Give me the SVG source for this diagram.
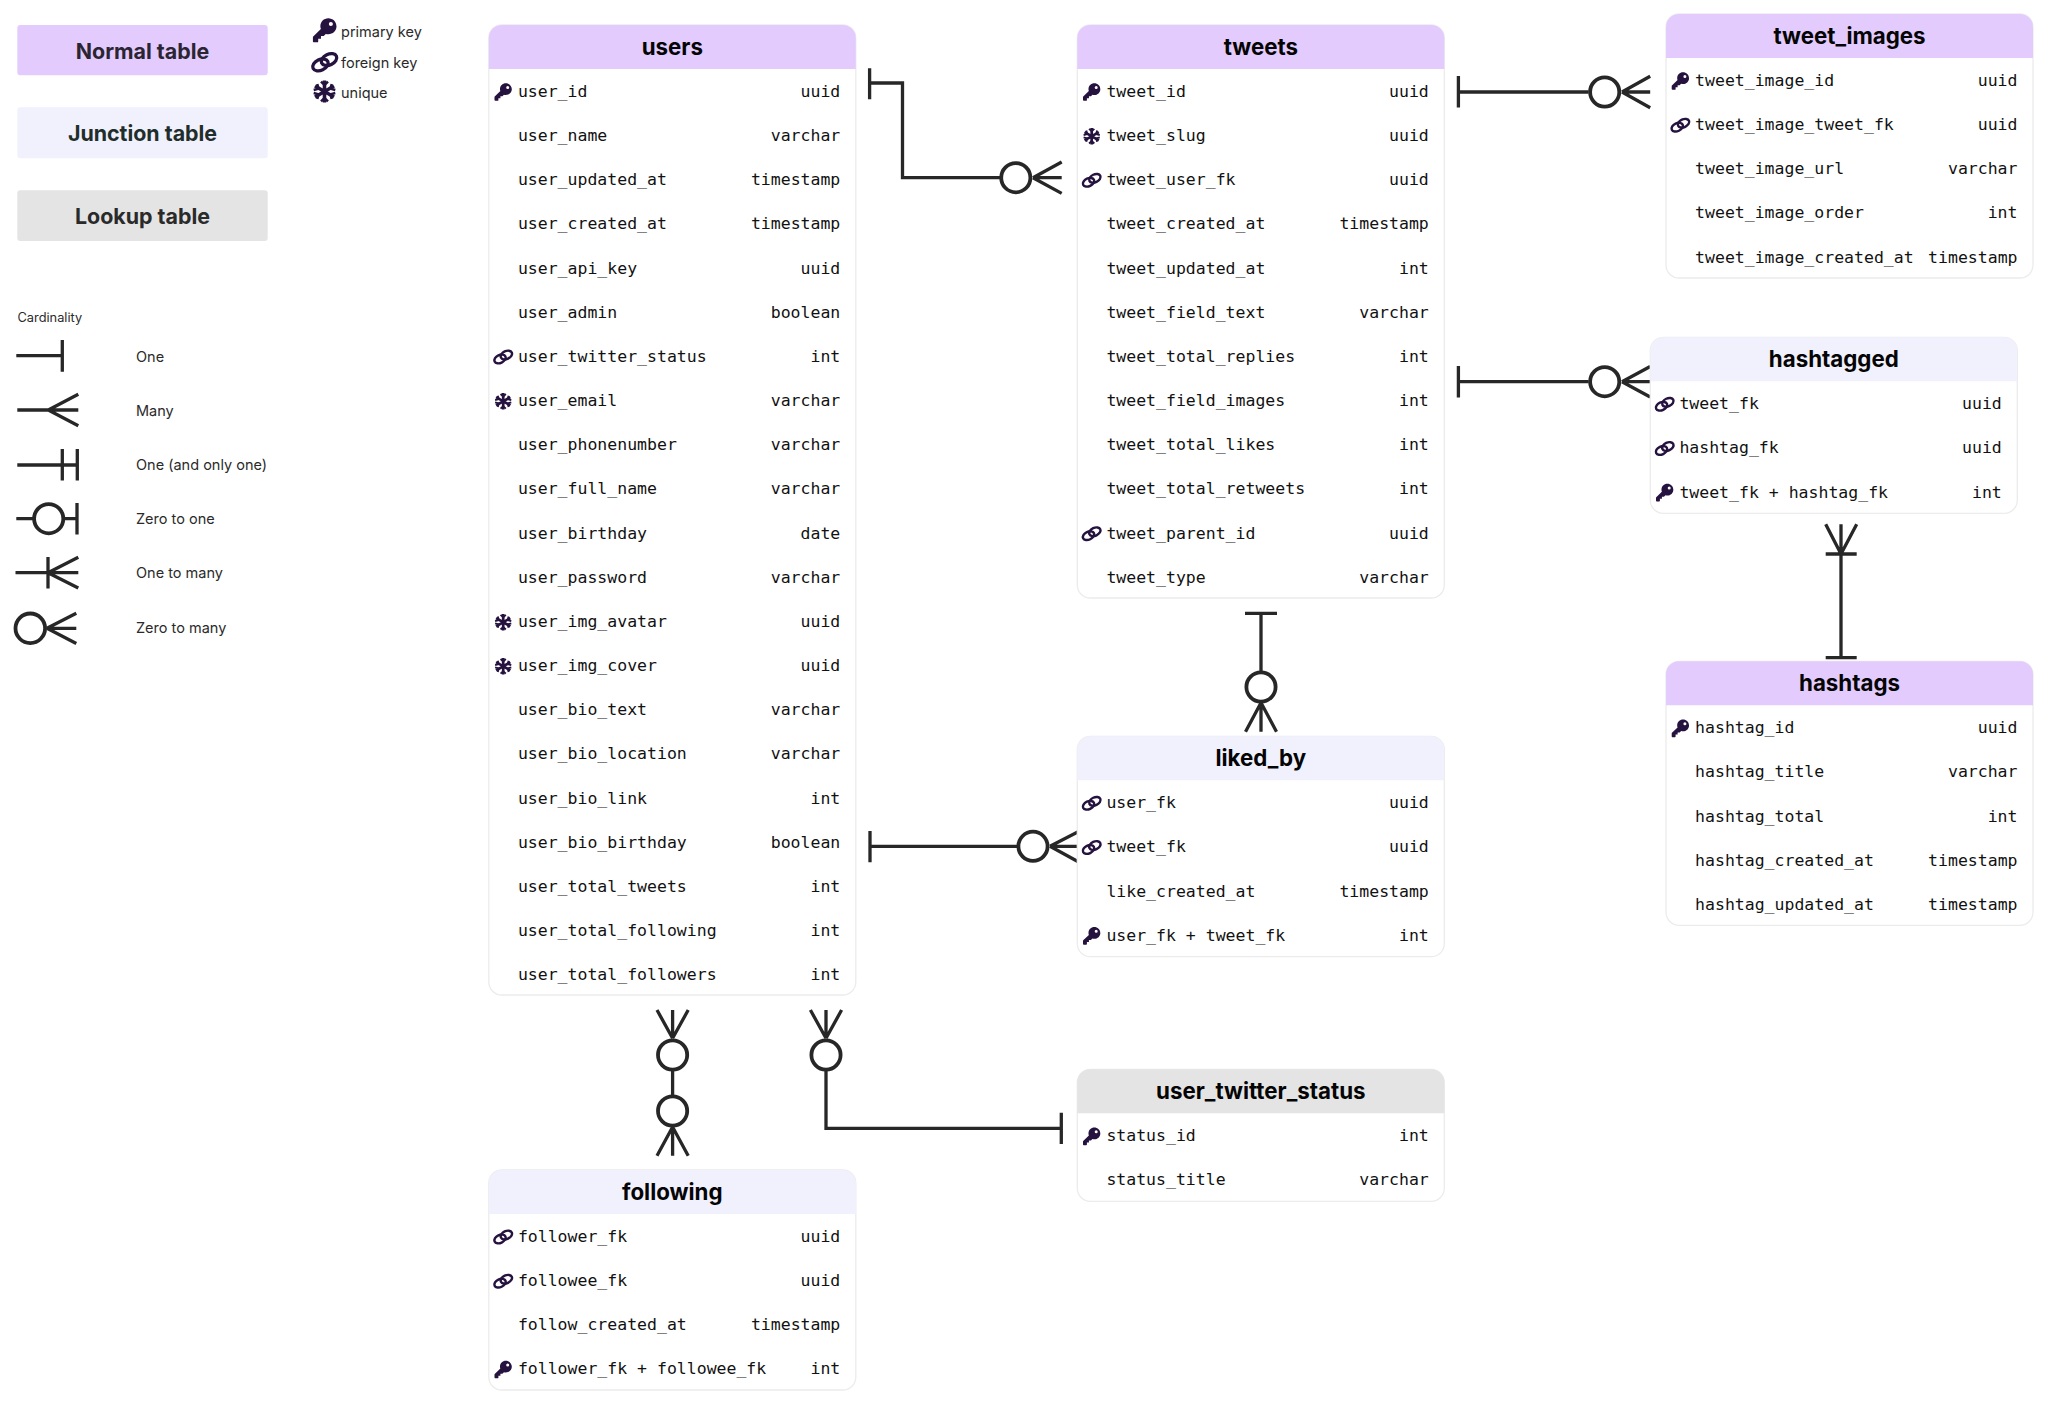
<svg xmlns="http://www.w3.org/2000/svg" width="2048" height="1413" viewBox="0 0 2048 1413">
<style>
text{font-family:"Inter","Liberation Sans",sans-serif}
.card{fill:#fff;stroke:#ececec;stroke-width:1.3}
.pu{fill:#e3ccfd}.ju{fill:#f1f1fe}.lo{fill:#e4e4e4}
.h{font-size:22.3px;font-weight:700;fill:#050505;text-anchor:middle}
.n,.t{font-family:"DejaVu Sans Mono","Liberation Mono",monospace;font-size:16.5px;fill:#111;transform:translateY(-0.6px)}
.n{transform:translate(-0.6px,-0.6px)}
.t{text-anchor:end}
.lg{font-size:21.4px;font-weight:650;text-anchor:middle}
.sm{font-size:14.5px;fill:#2a2a2a}
.c{fill:none;stroke:#272727;stroke-width:3.3}
.c circle{stroke-width:3.8}
.ic{fill:#25123f}
symbol{overflow:visible}
</style>
<defs>
<path id="hd" d="M0 44V13A13 13 0 0 1 13 0H354A13 13 0 0 1 367 13V44Z"/>
<symbol id="key" viewBox="0 0 24 24">
<path class="ic" fill-rule="evenodd" d="M15.5 0.3C19.9 0.3 23.5 3.8 23.5 8.2C23.5 12.6 19.9 16 15.5 16C14.6 16 13.8 15.9 13 15.6L11 17.6H8.3V20.3H5.6V22.9C5.6 23.4 5.2 23.8 4.7 23.8H1.4C0.8 23.8 0.4 23.4 0.4 22.8V18.9C0.4 18.6 0.5 18.3 0.7 18.1L8.2 10.8C7.9 9.9 7.7 9.1 7.7 8.2C7.7 3.8 11.1 0.3 15.5 0.3ZM18 3.9A2 2 0 1 0 18 7.9A2 2 0 1 0 18 3.9Z"/>
</symbol>
<symbol id="link" viewBox="0 0 24 24">
<g fill="none" stroke="#25123f" stroke-width="3.1" transform="translate(12 12) scale(1.05) translate(-12 -12)">
<ellipse cx="8" cy="14.5" rx="7.6" ry="5" transform="rotate(-25 8 14.5)"/>
<ellipse cx="16" cy="9.5" rx="7.6" ry="5" transform="rotate(-25 16 9.5)"/>
</g>
</symbol>
<symbol id="snow" viewBox="0 0 24 24">
<g fill="none" stroke="#25123f" stroke-width="3.6">
<path d="M12 1V23M2.5 6.5L21.5 17.5M21.5 6.5L2.5 17.5"/>
<path stroke-width="2.5" d="M8.5 2.2L12 5.5L15.5 2.2M8.5 21.8L12 18.5L15.5 21.8M1.2 10.5L6 9.2L4.8 4.5M22.8 10.5L18 9.2L19.2 4.5M1.2 13.5L6 14.8L4.8 19.5M22.8 13.5L18 14.8L19.2 19.5"/>
</g>
</symbol>
</defs>

<g id="legend-tables">
<rect class="pu" x="17.3" y="25" width="250.4" height="50.3" rx="3"/>
<text class="lg" x="142.5" y="59" fill="#2b2533">Normal table</text>
<rect class="ju" x="17.3" y="107.3" width="250.4" height="51" rx="3"/>
<text class="lg" x="142.5" y="141.4" fill="#1f2e2a">Junction table</text>
<rect class="lo" x="17.3" y="190.3" width="250.4" height="50.7" rx="3"/>
<text class="lg" x="142.5" y="224" fill="#2a2a2a">Lookup table</text>
</g>
<g id="legend-icons">
<use href="#key" x="312.5" y="18" width="24.5" height="24.5"/>
<use href="#link" x="312.5" y="50" width="24.5" height="24.5"/>
<use href="#snow" x="312.5" y="79.5" width="24" height="24"/>
<text class="sm" x="341" y="36.7">primary key</text>
<text class="sm" x="341" y="68">foreign key</text>
<text class="sm" x="341" y="98.3">unique</text>
</g>
<g id="legend-cardinality">
<text class="sm" x="17.5" y="321.5" style="font-size:12.8px">Cardinality</text>
<text class="sm" x="136" y="361.5">One</text>
<text class="sm" x="136" y="415.8">Many</text>
<text class="sm" x="136" y="470">One (and only one)</text>
<text class="sm" x="136" y="524">Zero to one</text>
<text class="sm" x="136" y="578.2">One to many</text>
<text class="sm" x="136" y="632.8">Zero to many</text>
<g class="c">
<path d="M16.3 355.7H62.3M62.3 340V371.7"/>
<path d="M17.3 410H78.3M48.3 410L78.3 394.3M48.3 410L78.3 425.7"/>
<path d="M17.3 465H77.3M62.3 449V480.5M77.3 449V480.5"/>
<path d="M16.3 518.7H33M64 518.7H77M77 503V534.5"/><circle cx="48.7" cy="518.7" r="14.6"/>
<path d="M15.5 572.7H78.3M48 557V588.5M48 572.7L78.3 557.3M48 572.7L78.3 588"/>
<circle cx="30.3" cy="628.3" r="14.8"/><path d="M47 628.3H76.3M47 628.3L76.3 613.3M47 628.3L76.3 643.5"/>
</g>
</g>

<g id="connectors" class="c">
<path d="M869.6 68.3V99.3M869.6 83H902.5V177.7H1000M1033 177.7H1061.7M1033 177.7L1061.7 162M1033 177.7L1061.7 193.4"/><circle cx="1015.8" cy="177.7" r="14.6"/>
<path d="M1458.4 76V107.5M1458.4 92H1588.6M1622 92H1650.2M1622 92L1650.2 76.3M1622 92L1650.2 107.7"/><circle cx="1604.7" cy="92" r="14.6"/>
<path d="M1458.4 366V397.5M1458.4 381.7H1588.6M1622 381.7H1650.2M1622 381.7L1650.2 366.5M1622 381.7L1650.2 397"/><circle cx="1604.7" cy="381.7" r="14.6"/>
<path d="M870 831V862.3M870 846.3H1017M1050 846.3H1078.7M1050 846.3L1078.7 831.5M1050 846.3L1078.7 862"/><circle cx="1033" cy="846.3" r="14.6"/>
<path d="M1245 613.3H1277M1261 613.3V671M1261 702.7V731.7M1261 702.7L1245.5 731.7M1261 702.7L1276.5 731.7"/><circle cx="1261" cy="687" r="14.6"/>
<path d="M1841 524.3V657.7M1841 554L1825.7 524.3M1841 554L1856.7 524.3M1825.7 554H1856.7M1825.7 657.7H1856.7"/>
<path d="M672.6 1010V1038.3M672.6 1038.3L657 1010M672.6 1038.3L688.2 1010M672.6 1071V1095M672.6 1127V1155.7M672.6 1127L657 1155.7M672.6 1127L688.2 1155.7"/><circle cx="672.6" cy="1055" r="14.6"/><circle cx="672.6" cy="1111" r="14.6"/>
<path d="M826 1010V1038.3M826 1038.3L810.4 1010M826 1038.3L841.6 1010M826 1071V1128.3H1061.3M1061.3 1112.7V1144"/><circle cx="826" cy="1055" r="14.6"/>
</g>

<g id="users" transform="translate(488.8,25)">
<rect class="card" width="367" height="970" rx="13"/><use href="#hd" class="pu"/>
<text class="h" x="183.5" y="29.5">users</text>
<use href="#key" x="5.4" y="58" width="18" height="18"/>
<use href="#link" x="5.4" y="323" width="18" height="18"/>
<use href="#snow" x="5.4" y="367.3" width="18" height="18"/>
<use href="#snow" x="5.4" y="588.2" width="18" height="18"/>
<use href="#snow" x="5.4" y="632.3" width="18" height="18"/>
<text class="n" x="29.7" y="72.6">user_id</text><text class="t" x="351.5" y="72.6">uuid</text>
<text class="n" x="29.7" y="116.8">user_name</text><text class="t" x="351.5" y="116.8">varchar</text>
<text class="n" x="29.7" y="160.9">user_updated_at</text><text class="t" x="351.5" y="160.9">timestamp</text>
<text class="n" x="29.7" y="205.1">user_created_at</text><text class="t" x="351.5" y="205.1">timestamp</text>
<text class="n" x="29.7" y="249.3">user_api_key</text><text class="t" x="351.5" y="249.3">uuid</text>
<text class="n" x="29.7" y="293.4">user_admin</text><text class="t" x="351.5" y="293.4">boolean</text>
<text class="n" x="29.7" y="337.6">user_twitter_status</text><text class="t" x="351.5" y="337.6">int</text>
<text class="n" x="29.7" y="381.8">user_email</text><text class="t" x="351.5" y="381.8">varchar</text>
<text class="n" x="29.7" y="425.9">user_phonenumber</text><text class="t" x="351.5" y="425.9">varchar</text>
<text class="n" x="29.7" y="470.1">user_full_name</text><text class="t" x="351.5" y="470.1">varchar</text>
<text class="n" x="29.7" y="514.3">user_birthday</text><text class="t" x="351.5" y="514.3">date</text>
<text class="n" x="29.7" y="558.4">user_password</text><text class="t" x="351.5" y="558.4">varchar</text>
<text class="n" x="29.7" y="602.6">user_img_avatar</text><text class="t" x="351.5" y="602.6">uuid</text>
<text class="n" x="29.7" y="646.8">user_img_cover</text><text class="t" x="351.5" y="646.8">uuid</text>
<text class="n" x="29.7" y="690.9">user_bio_text</text><text class="t" x="351.5" y="690.9">varchar</text>
<text class="n" x="29.7" y="735.1">user_bio_location</text><text class="t" x="351.5" y="735.1">varchar</text>
<text class="n" x="29.7" y="779.3">user_bio_link</text><text class="t" x="351.5" y="779.3">int</text>
<text class="n" x="29.7" y="823.4">user_bio_birthday</text><text class="t" x="351.5" y="823.4">boolean</text>
<text class="n" x="29.7" y="867.6">user_total_tweets</text><text class="t" x="351.5" y="867.6">int</text>
<text class="n" x="29.7" y="911.8">user_total_following</text><text class="t" x="351.5" y="911.8">int</text>
<text class="n" x="29.7" y="955.9">user_total_followers</text><text class="t" x="351.5" y="955.9">int</text>
</g>

<g id="tweets" transform="translate(1077.3,25)">
<rect class="card" width="367" height="573" rx="13"/><use href="#hd" class="pu"/>
<text class="h" x="183.5" y="29.5">tweets</text>
<use href="#key" x="5.4" y="58" width="18" height="18"/>
<use href="#snow" x="5.4" y="102.2" width="18" height="18"/>
<use href="#link" x="5.4" y="146.3" width="18" height="18"/>
<use href="#link" x="5.4" y="499.7" width="18" height="18"/>
<text class="n" x="29.7" y="72.6">tweet_id</text><text class="t" x="351.5" y="72.6">uuid</text>
<text class="n" x="29.7" y="116.8">tweet_slug</text><text class="t" x="351.5" y="116.8">uuid</text>
<text class="n" x="29.7" y="160.9">tweet_user_fk</text><text class="t" x="351.5" y="160.9">uuid</text>
<text class="n" x="29.7" y="205.1">tweet_created_at</text><text class="t" x="351.5" y="205.1">timestamp</text>
<text class="n" x="29.7" y="249.3">tweet_updated_at</text><text class="t" x="351.5" y="249.3">int</text>
<text class="n" x="29.7" y="293.4">tweet_field_text</text><text class="t" x="351.5" y="293.4">varchar</text>
<text class="n" x="29.7" y="337.6">tweet_total_replies</text><text class="t" x="351.5" y="337.6">int</text>
<text class="n" x="29.7" y="381.8">tweet_field_images</text><text class="t" x="351.5" y="381.8">int</text>
<text class="n" x="29.7" y="425.9">tweet_total_likes</text><text class="t" x="351.5" y="425.9">int</text>
<text class="n" x="29.7" y="470.1">tweet_total_retweets</text><text class="t" x="351.5" y="470.1">int</text>
<text class="n" x="29.7" y="514.3">tweet_parent_id</text><text class="t" x="351.5" y="514.3">uuid</text>
<text class="n" x="29.7" y="558.4">tweet_type</text><text class="t" x="351.5" y="558.4">varchar</text>
</g>

<g id="tweet_images" transform="translate(1666,14)">
<rect class="card" width="367" height="264" rx="13"/><use href="#hd" class="pu"/>
<text class="h" x="183.5" y="29.5">tweet_images</text>
<use href="#key" x="5.4" y="58" width="18" height="18"/>
<use href="#link" x="5.4" y="102.2" width="18" height="18"/>
<text class="n" x="29.7" y="72.6">tweet_image_id</text><text class="t" x="351.5" y="72.6">uuid</text>
<text class="n" x="29.7" y="116.8">tweet_image_tweet_fk</text><text class="t" x="351.5" y="116.8">uuid</text>
<text class="n" x="29.7" y="160.9">tweet_image_url</text><text class="t" x="351.5" y="160.9">varchar</text>
<text class="n" x="29.7" y="205.1">tweet_image_order</text><text class="t" x="351.5" y="205.1">int</text>
<text class="n" x="29.7" y="249.3">tweet_image_created_at</text><text class="t" x="351.5" y="249.3">timestamp</text>
</g>

<g id="hashtagged" transform="translate(1650.3,337.3)">
<rect class="card" width="367" height="176" rx="13"/><use href="#hd" class="ju"/>
<text class="h" x="183.5" y="29.5">hashtagged</text>
<use href="#link" x="5.4" y="58" width="18" height="18"/>
<use href="#link" x="5.4" y="102.2" width="18" height="18"/>
<use href="#key" x="5.4" y="146.3" width="18" height="18"/>
<text class="n" x="29.7" y="72.6">tweet_fk</text><text class="t" x="351.5" y="72.6">uuid</text>
<text class="n" x="29.7" y="116.8">hashtag_fk</text><text class="t" x="351.5" y="116.8">uuid</text>
<text class="n" x="29.7" y="160.9">tweet_fk + hashtag_fk</text><text class="t" x="351.5" y="160.9">int</text>
</g>

<g id="hashtags" transform="translate(1666,661.3)">
<rect class="card" width="367" height="264" rx="13"/><use href="#hd" class="pu"/>
<text class="h" x="183.5" y="29.5">hashtags</text>
<use href="#key" x="5.4" y="58" width="18" height="18"/>
<text class="n" x="29.7" y="72.6">hashtag_id</text><text class="t" x="351.5" y="72.6">uuid</text>
<text class="n" x="29.7" y="116.8">hashtag_title</text><text class="t" x="351.5" y="116.8">varchar</text>
<text class="n" x="29.7" y="160.9">hashtag_total</text><text class="t" x="351.5" y="160.9">int</text>
<text class="n" x="29.7" y="205.1">hashtag_created_at</text><text class="t" x="351.5" y="205.1">timestamp</text>
<text class="n" x="29.7" y="249.3">hashtag_updated_at</text><text class="t" x="351.5" y="249.3">timestamp</text>
</g>

<g id="liked_by" transform="translate(1077.3,736.3)">
<rect class="card" width="367" height="220.4" rx="13"/><use href="#hd" class="ju"/>
<text class="h" x="183.5" y="29.5">liked_by</text>
<use href="#link" x="5.4" y="58" width="18" height="18"/>
<use href="#link" x="5.4" y="102.2" width="18" height="18"/>
<use href="#key" x="5.4" y="190.5" width="18" height="18"/>
<text class="n" x="29.7" y="72.6">user_fk</text><text class="t" x="351.5" y="72.6">uuid</text>
<text class="n" x="29.7" y="116.8">tweet_fk</text><text class="t" x="351.5" y="116.8">uuid</text>
<text class="n" x="29.7" y="160.9">like_created_at</text><text class="t" x="351.5" y="160.9">timestamp</text>
<text class="n" x="29.7" y="205.1">user_fk + tweet_fk</text><text class="t" x="351.5" y="205.1">int</text>
</g>

<g id="following" transform="translate(488.8,1170)">
<rect class="card" width="367" height="220" rx="13"/><use href="#hd" class="ju"/>
<text class="h" x="183.5" y="29.5">following</text>
<use href="#link" x="5.4" y="58" width="18" height="18"/>
<use href="#link" x="5.4" y="102.2" width="18" height="18"/>
<use href="#key" x="5.4" y="190.5" width="18" height="18"/>
<text class="n" x="29.7" y="72.6">follower_fk</text><text class="t" x="351.5" y="72.6">uuid</text>
<text class="n" x="29.7" y="116.8">followee_fk</text><text class="t" x="351.5" y="116.8">uuid</text>
<text class="n" x="29.7" y="160.9">follow_created_at</text><text class="t" x="351.5" y="160.9">timestamp</text>
<text class="n" x="29.7" y="205.1">follower_fk + followee_fk</text><text class="t" x="351.5" y="205.1">int</text>
</g>

<g id="user_twitter_status" transform="translate(1077.3,1069.3)">
<rect class="card" width="367" height="132" rx="13"/><use href="#hd" class="lo"/>
<text class="h" x="183.5" y="29.5">user_twitter_status</text>
<use href="#key" x="5.4" y="58" width="18" height="18"/>
<text class="n" x="29.7" y="72.6">status_id</text><text class="t" x="351.5" y="72.6">int</text>
<text class="n" x="29.7" y="116.8">status_title</text><text class="t" x="351.5" y="116.8">varchar</text>
</g>
</svg>
